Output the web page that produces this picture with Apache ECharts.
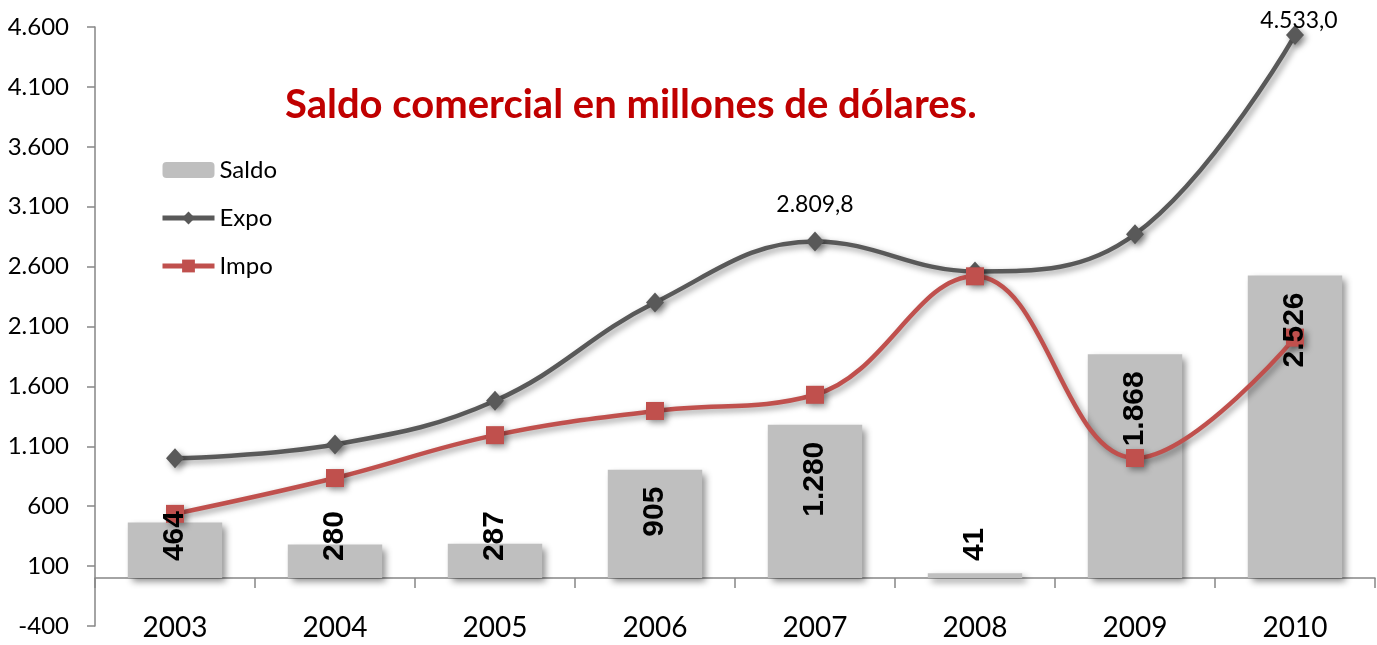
<!DOCTYPE html>
<html lang="es">
  <head>
    <meta charset="UTF-8" />
    <title>Saldo comercial</title>
    <script src="https://cdn.jsdelivr.net/npm/echarts@6/dist/echarts.min.js"></script>
    <style>
      html,
      body {
        margin: 0;
        padding: 0;
        background: #fff;
      }
      #chart {
        width: 1377px;
        height: 645px;
      }
    </style>
  </head>
  <body>
    <div id="chart"></div>
    <script>
      const years = ["2003", "2004", "2005", "2006", "2007", "2008", "2009", "2010"];
      const saldo = [464, 280, 287, 905, 1280, 41, 1868, 2526];
      const expo = [1000, 1115, 1480, 2300, 2809.8, 2560, 2870, 4533.0];
      const impo = [536, 835, 1193, 1395, 1530, 2519, 1002, 2007];
      // puntos de Expo que llevan etiqueta
      const expoLabeled = [4, 7];

      const font = "Lato, 'Open Sans', sans-serif";

      // 2809.8 -> "2.809,8"
      const fmt = (v, dec) => {
        const neg = v < 0;
        const parts = Math.abs(v).toFixed(dec).split(".");
        const int = parts[0].replace(/\B(?=(\d{3})+(?!\d))/g, ".");
        return (neg ? "-" : "") + int + (parts[1] ? "," + parts[1] : "");
      };

      const myChart = echarts.init(document.getElementById("chart"));

      // etiquetas giradas dentro de las barras
      const saldoLabels = saldo.map((v) => {
        const big = v >= 600;
        return {
          value: v,
          label: {
            position: big ? "insideTop" : "insideBottom",
            align: big ? "right" : "left",
            distance: 17,
          },
        };
      });

      const expoData = expo.map((v, i) => {
        const item = { value: v, label: { show: expoLabeled.includes(i) } };
        // la última etiqueta queda pegada al marcador
        if (i === expo.length - 1) item.label.offset = [4, 22];
        return item;
      });

      const option = {
        backgroundColor: "#fff",
        animation: false,
        title: {
          text: "Saldo comercial en millones de dólares.",
          left: 280,
          top: 80,
          textStyle: {
            color: "#c00000",
            fontFamily: font,
            fontWeight: "bold",
            fontSize: 40,
          },
        },
        legend: {
          orient: "vertical",
          left: 155,
          top: 153,
          itemWidth: 52,
          itemHeight: 16,
          itemGap: 24,
          data: ["Saldo", "Expo", "Impo"],
          lineStyle: { width: 5 },
          textStyle: {
            fontFamily: font,
            fontSize: 24,
            color: "#000",
          },
        },
        grid: {
          left: 95,
          right: 2,
          top: 27,
          bottom: 19,
          outerBoundsMode: "none",
        },
        xAxis: [
          {
            // eje en el cero: línea y marcas
            type: "category",
            data: years,
            axisLine: {
              onZero: true,
              lineStyle: { color: "#868686", width: 1.5 },
            },
            axisTick: {
              show: true,
              length: 10,
              lineStyle: { color: "#868686", width: 1.5 },
            },
            axisLabel: { show: false },
          },
          {
            // etiquetas de años abajo del todo
            type: "category",
            data: years,
            position: "bottom",
            axisLine: { show: false, onZero: false },
            axisTick: { show: false },
            axisLabel: {
              margin: 2,
              verticalAlign: "middle",
              color: "#000",
              fontFamily: font,
              fontSize: 28,
            },
          },
        ],
        yAxis: {
          type: "value",
          min: -400,
          max: 4600,
          interval: 500,
          splitLine: { show: false },
          axisLine: {
            show: true,
            lineStyle: { color: "#868686", width: 1.5 },
          },
          axisTick: {
            show: true,
            length: 8,
            lineStyle: { color: "#868686", width: 1.5 },
          },
          axisLabel: {
            margin: 26,
            color: "#000",
            fontFamily: font,
            fontSize: 24,
            formatter: (v) => fmt(v, 0),
          },
        },
        series: [
          {
            name: "Saldo",
            type: "bar",
            data: saldo,
            barWidth: "59%",
            z: 2,
            itemStyle: {
              color: "#bfbfbf",
              shadowColor: "rgba(0,0,0,0.45)",
              shadowBlur: 7,
              shadowOffsetX: 4,
              shadowOffsetY: 4,
            },
          },
          {
            name: "Impo",
            type: "line",
            data: impo,
            smooth: 0.4,
            symbol: "rect",
            symbolSize: 18,
            z: 4,
            lineStyle: {
              color: "#c0504d",
              width: 4.5,
              shadowColor: "rgba(0,0,0,0.4)",
              shadowBlur: 6,
              shadowOffsetX: 3,
              shadowOffsetY: 3,
            },
            itemStyle: {
              color: "#c0504d",
              borderWidth: 0,
              shadowColor: "rgba(0,0,0,0.4)",
              shadowBlur: 6,
              shadowOffsetX: 3,
              shadowOffsetY: 3,
            },
          },
          {
            name: "Expo",
            type: "line",
            data: expoData,
            smooth: 0.4,
            symbol: "diamond",
            symbolSize: [18, 20],
            z: 3,
            lineStyle: {
              color: "#595959",
              width: 4.5,
              shadowColor: "rgba(0,0,0,0.4)",
              shadowBlur: 6,
              shadowOffsetX: 3,
              shadowOffsetY: 3,
            },
            itemStyle: {
              color: "#595959",
              borderWidth: 0,
              shadowColor: "rgba(0,0,0,0.4)",
              shadowBlur: 6,
              shadowOffsetX: 3,
              shadowOffsetY: 3,
            },
            label: {
              show: false,
              position: "top",
              distance: 15,
              color: "#000",
              fontFamily: font,
              fontSize: 23,
              formatter: (p) => fmt(p.value, 1),
            },
          },
          // capa de etiquetas de Saldo, por encima de las líneas
          {
            name: "SaldoEtiquetas",
            type: "bar",
            data: saldoLabels,
            barWidth: "59%",
            barGap: "-100%",
            z: 10,
            silent: true,
            itemStyle: { color: "rgba(0,0,0,0)" },
            label: {
              show: true,
              rotate: 90,
              verticalAlign: "middle",
              color: "#000",
              fontFamily: "'Liberation Sans', Arial, sans-serif",
              fontWeight: "bold",
              fontSize: 30,
              formatter: (p) => fmt(p.value, 0),
            },
          },
        ],
      };

      myChart.setOption(option);
    </script>
  </body>
</html>
